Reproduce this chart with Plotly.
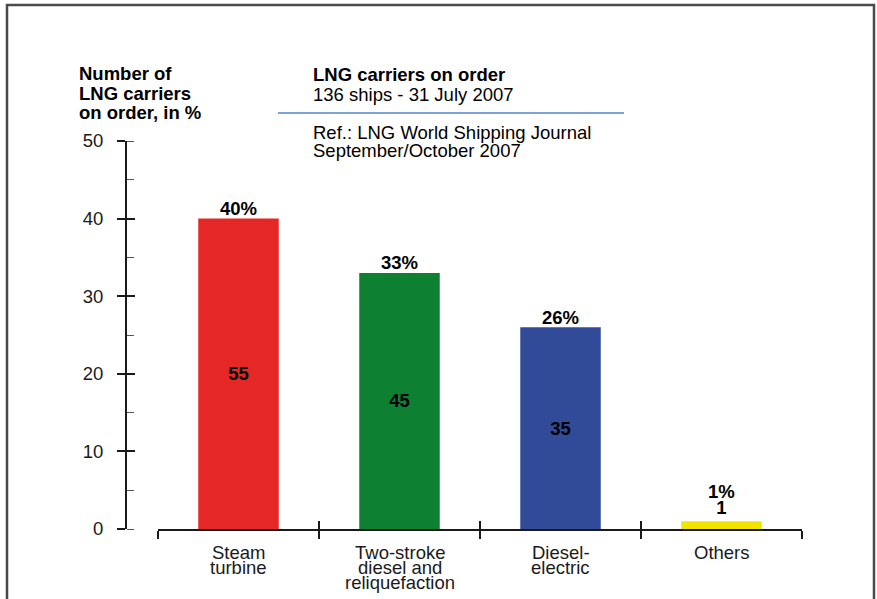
import plotly.graph_objects as go

# Propulsion systems of LNG carriers on order (136 ships, 31 July 2007)
CATEGORIES = ["Steam turbine", "Two-stroke diesel and reliquefaction", "Diesel-electric", "Others"]
CATEGORY_LINES = [["Steam", "turbine"], ["Two-stroke", "diesel and", "reliquefaction"],
                  ["Diesel-", "electric"], ["Others"]]
SHARE_PCT = [40, 33, 26, 1]
SHIP_COUNT = [55, 45, 35, 1]
COLORS = ["#E52825", "#0E8032", "#324B98", "#F3E400"]
Y_TICKS = [0, 10, 20, 30, 40, 50]

FONT = "Liberation Sans, Arial, Helvetica, sans-serif"
FS = 18.5
INK = "#1a1a1a"

W, H = 877, 599
ML, MR, MT, MB = 126, 75, 141, 70
PW, PH = W - ML - MR, H - MT - MB


def px_x(px):
    return (px - ML) / PW


def px_y(py):
    return (H - MB - py) / PH


# count sits inside the bar unless the bar is too short
text_pos = ["inside" if v > 5 else "outside" for v in SHARE_PCT]

fig = go.Figure()
fig.add_trace(go.Bar(
    x=CATEGORIES, y=SHARE_PCT,
    marker=dict(color=COLORS, line=dict(width=0)),
    text=[str(c) for c in SHIP_COUNT],
    textposition=text_pos,
    insidetextanchor="middle",
    textangle=0,
    textfont=dict(family=FONT, size=FS, color="#000000", weight="bold"),
    cliponaxis=False,
    width=0.5,
    showlegend=False,
    hoverinfo="skip",
))
# helper trace so the overlay axes carrying the inward ticks are drawn
fig.add_trace(go.Scatter(
    x=CATEGORIES, y=SHARE_PCT, xaxis="x2", yaxis="y2",
    mode="markers", marker=dict(opacity=0), showlegend=False, hoverinfo="skip",
))

annotations = []
# percentage labels above the bars
for cat, pct, pos in zip(CATEGORIES, SHARE_PCT, text_pos):
    annotations.append(dict(
        x=cat, y=pct, xref="x", yref="y", text=f"<b>{pct}%</b>", showarrow=False,
        yanchor="middle", yshift=10 if pos == "inside" else 30,
        font=dict(family=FONT, size=FS, color="#000000"),
    ))
# category labels below the axis with tight leading
for cat, lines in zip(CATEGORIES, CATEGORY_LINES):
    for i, line in enumerate(lines):
        annotations.append(dict(
            x=cat, y=0, xref="x", yref="paper", text=line, showarrow=False,
            yanchor="middle", yshift=-(23 + 15 * i),
            font=dict(family=FONT, size=FS, color=INK),
        ))
# y-axis title
for i, line in enumerate(["Number of", "LNG carriers", "on order, in %"]):
    annotations.append(dict(
        x=px_x(77), y=px_y(74 + 19 * i), xref="paper", yref="paper",
        text=f"<b>{line}</b>", showarrow=False, xanchor="left", yanchor="middle",
        font=dict(family=FONT, size=FS, color="#000000"),
    ))
# title block
for text, py in [("<b>LNG carriers on order</b>", 75), ("136 ships - 31 July 2007", 94),
                 ("Ref.: LNG World Shipping Journal", 132), ("September/October 2007", 150)]:
    annotations.append(dict(
        x=px_x(311), y=px_y(py), xref="paper", yref="paper", text=text,
        showarrow=False, xanchor="left", yanchor="middle",
        font=dict(family=FONT, size=FS, color="#000000"),
    ))

shapes = [
    # rule under the title
    dict(type="line", xref="paper", yref="paper", x0=px_x(278), x1=px_x(624),
         y0=px_y(113), y1=px_y(113), line=dict(color="#7FA2D4", width=2)),
    # outer frame
    dict(type="rect", xref="paper", yref="paper", x0=px_x(7), x1=px_x(874),
         y0=px_y(610), y1=px_y(5), line=dict(color="#4a4a4a", width=2.5),
         fillcolor="rgba(0,0,0,0)", layer="below"),
]

x_common = dict(
    type="category", categoryorder="array", categoryarray=CATEGORIES,
    range=[-0.5, 3.5], domain=[px_x(158), 1], tickson="boundaries",
    ticklen=8, tickwidth=2, tickcolor=INK, showgrid=False, zeroline=False,
    showticklabels=False, fixedrange=True,
)
y_common = dict(
    range=[0, 50], anchor="free", position=0, tickvals=Y_TICKS,
    ticklen=8, tickwidth=2, tickcolor=INK, showgrid=False, zeroline=False,
    fixedrange=True,
)

fig.update_layout(
    width=W, height=H,
    margin=dict(l=ML, r=MR, t=MT, b=MB, pad=0),
    paper_bgcolor="white", plot_bgcolor="white",
    bargap=0.5,
    xaxis=dict(**x_common, ticks="outside", showline=True, linecolor=INK, linewidth=2),
    xaxis2=dict(**x_common, ticks="inside", overlaying="x", anchor="y", showline=False),
    yaxis=dict(**y_common, ticks="outside", showline=True, linecolor=INK, linewidth=2,
               ticktext=[str(v) for v in Y_TICKS], tickmode="array",
               tickfont=dict(family=FONT, size=FS, color=INK), ticklabelstandoff=10,
               minor=dict(ticks="inside", dtick=5, ticklen=7, tickwidth=1, tickcolor="#555555")),
    yaxis2=dict(**y_common, ticks="inside", overlaying="y", showline=False,
                showticklabels=False),
    annotations=annotations,
    shapes=shapes,
    font=dict(family=FONT, size=FS, color=INK),
)

fig.write_html("out.html")
